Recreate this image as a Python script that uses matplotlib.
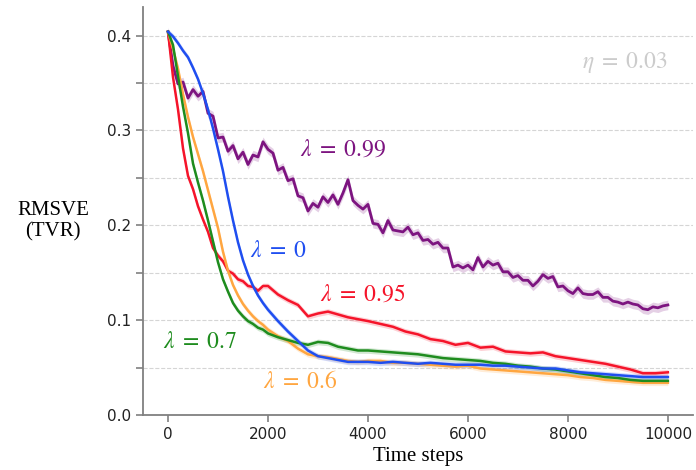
import numpy as np
import matplotlib
matplotlib.use("Agg")
import matplotlib.pyplot as plt
from matplotlib.ticker import MultipleLocator

plt.rcParams["mathtext.fontset"] = "stix"

# time grid for the smooth curves
steps = [0, 100, 200, 300, 400, 500, 600, 700, 800, 900, 1000, 1100, 1200, 1300,
         1400, 1500, 1600, 1700, 1800, 1900, 2000, 2200, 2400, 2600, 2800, 3000,
         3200, 3400, 3600, 3800, 4000, 4250, 4500, 4750, 5000, 5250, 5500, 5750,
         6000, 6250, 6500, 6750, 7000, 7250, 7500, 7750, 8000, 8250, 8500, 8750,
         9000, 9250, 9500, 9750, 10000]

lam_0 = [0.404, 0.399, 0.392, 0.384, 0.377, 0.366, 0.354, 0.339, 0.322, 0.302,
         0.280, 0.257, 0.230, 0.205, 0.182, 0.163, 0.148, 0.136, 0.126, 0.118,
         0.111, 0.099, 0.088, 0.078, 0.068, 0.062, 0.060, 0.058, 0.056, 0.056,
         0.056, 0.055, 0.056, 0.055, 0.054, 0.055, 0.054, 0.053, 0.053, 0.053,
         0.052, 0.052, 0.051, 0.050, 0.049, 0.049, 0.047, 0.045, 0.044, 0.043,
         0.042, 0.041, 0.040, 0.040, 0.040]

lam_095 = [0.404, 0.356, 0.322, 0.281, 0.252, 0.238, 0.220, 0.206, 0.193, 0.176,
           0.168, 0.162, 0.152, 0.149, 0.143, 0.141, 0.136, 0.135, 0.131, 0.136,
           0.136, 0.127, 0.121, 0.116, 0.104, 0.107, 0.109, 0.106, 0.103, 0.101,
           0.099, 0.096, 0.093, 0.088, 0.085, 0.080, 0.078, 0.074, 0.076, 0.071,
           0.072, 0.067, 0.066, 0.065, 0.066, 0.062, 0.060, 0.058, 0.056, 0.054,
           0.051, 0.048, 0.044, 0.044, 0.045]

lam_07 = [0.404, 0.390, 0.357, 0.325, 0.297, 0.265, 0.245, 0.226, 0.205, 0.183,
          0.161, 0.143, 0.130, 0.118, 0.110, 0.104, 0.099, 0.096, 0.092, 0.090,
          0.086, 0.082, 0.079, 0.076, 0.074, 0.077, 0.076, 0.072, 0.070, 0.068,
          0.068, 0.067, 0.066, 0.065, 0.064, 0.062, 0.060, 0.059, 0.058, 0.057,
          0.055, 0.054, 0.052, 0.051, 0.049, 0.048, 0.046, 0.044, 0.042, 0.040,
          0.039, 0.037, 0.036, 0.036, 0.036]

lam_06 = [0.404, 0.386, 0.365, 0.338, 0.314, 0.293, 0.275, 0.257, 0.237, 0.217,
          0.197, 0.172, 0.152, 0.137, 0.126, 0.117, 0.110, 0.104, 0.099, 0.095,
          0.090, 0.083, 0.078, 0.070, 0.064, 0.062, 0.061, 0.059, 0.057, 0.056,
          0.057, 0.057, 0.055, 0.055, 0.054, 0.053, 0.052, 0.051, 0.052, 0.049,
          0.048, 0.047, 0.046, 0.045, 0.044, 0.043, 0.042, 0.040, 0.039, 0.037,
          0.036, 0.035, 0.034, 0.034, 0.034]

# lambda = 0.99 is much noisier, read every 100 steps
steps_099 = list(range(0, 10001, 100))
lam_099 = [0.404, 0.368, 0.349, 0.351, 0.334, 0.343, 0.336, 0.341, 0.318, 0.315,
           0.292, 0.293, 0.278, 0.284, 0.270, 0.277, 0.264, 0.274, 0.272, 0.288,
           0.280, 0.276, 0.258, 0.261, 0.247, 0.249, 0.231, 0.229, 0.215, 0.223,
           0.219, 0.230, 0.224, 0.232, 0.222, 0.234, 0.248, 0.226, 0.221, 0.217,
           0.222, 0.202, 0.201, 0.192, 0.205, 0.195, 0.194, 0.193, 0.198, 0.190,
           0.192, 0.184, 0.185, 0.180, 0.182, 0.176, 0.176, 0.156, 0.158, 0.155,
           0.158, 0.153, 0.166, 0.156, 0.162, 0.158, 0.160, 0.151, 0.151, 0.145,
           0.147, 0.142, 0.142, 0.136, 0.141, 0.148, 0.144, 0.146, 0.135, 0.136,
           0.131, 0.128, 0.134, 0.128, 0.127, 0.127, 0.130, 0.124, 0.124, 0.120,
           0.119, 0.117, 0.119, 0.117, 0.116, 0.112, 0.111, 0.114, 0.113, 0.115,
           0.116]

# half width of the shaded error band for each run
band = {"0": 0.003, "0.95": 0.003, "0.7": 0.003, "0.6": 0.003, "0.99": 0.005}

colors = {"0": "#1f4ef0", "0.95": "#f5142a", "0.7": "#1e8c1e",
          "0.6": "#ffa640", "0.99": "#7d1480"}

runs = [("0.99", steps_099, lam_099), ("0.95", steps, lam_095),
        ("0.6", steps, lam_06), ("0.7", steps, lam_07), ("0", steps, lam_0)]

fig = plt.figure(figsize=(6.96, 4.70), dpi=100)
ax = fig.add_axes([0.2055, 0.117, 0.79, 0.868])

for name, x, y in runs:
    x = np.array(x)
    y = np.array(y)
    c = colors[name]
    ax.fill_between(x, y - band[name], y + band[name], color=c, alpha=0.2, lw=0)
    ax.plot(x, y, color=c, lw=2.0 if name == "0.99" else 1.8)

ax.set_xlim(-500, 10500)
ax.set_ylim(0, 0.43)
ax.yaxis.set_major_locator(MultipleLocator(0.1))
ax.yaxis.set_minor_locator(MultipleLocator(0.05))
ax.xaxis.set_major_locator(MultipleLocator(2000))
ax.grid(axis="y", which="both", ls="--", color="#d5d5d5", lw=0.8)
ax.set_axisbelow(True)

for s in ["top", "right"]:
    ax.spines[s].set_visible(False)
for s in ["left", "bottom"]:
    ax.spines[s].set_color("#808080")
    ax.spines[s].set_linewidth(1.3)
ax.tick_params(which="both", color="#808080", length=5, width=1.2,
               labelsize=11, labelcolor="#222222")

ax.set_xlabel("Time steps", family="Liberation Serif", fontsize=15)
ax.set_ylabel("RMSVE\n(TVR)", family="Liberation Serif", fontsize=15,
              rotation=0, va="center", ha="center")
ax.yaxis.set_label_coords(-0.164, 0.475)

kw = dict(fontsize=17, va="center", ha="left")
ax.text(2640, 0.281, r"$\lambda\;=\;0.99$", color=colors["0.99"], **kw)
ax.text(1640, 0.174, r"$\lambda\;=\;0$", color=colors["0"], **kw)
ax.text(3040, 0.128, r"$\lambda\;=\;0.95$", color=colors["0.95"], **kw)
ax.text(-100, 0.078, r"$\lambda\;=\;0.7$", color=colors["0.7"], **kw)
ax.text(1900, 0.036, r"$\lambda\;=\;0.6$", color=colors["0.6"], **kw)
ax.text(8280, 0.372, r"$\eta\;=\;0.03$", color="#cccccc", **kw)

fig.savefig("out.png", dpi=100)
